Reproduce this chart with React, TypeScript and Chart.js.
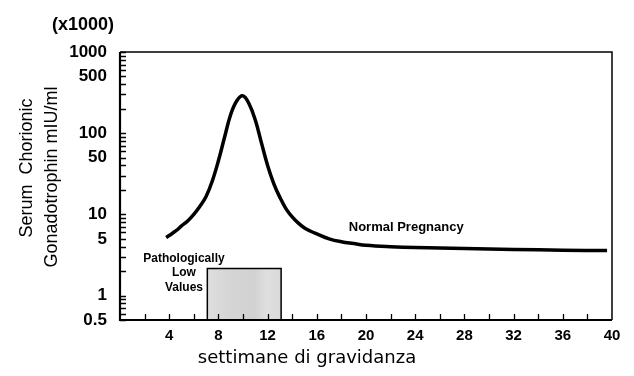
import React, { useEffect, useRef } from "react";
import { Chart, registerables } from "chart.js";

Chart.register(...registerables);

// ---- data ----
const curveWeeks = [3.75, 4, 4.5, 5, 5.5, 6, 6.5, 7, 7.5, 8, 8.5, 9, 9.5, 10, 10.5, 11, 11.5, 12, 12.5, 13, 13.5, 14, 14.5, 15, 15.5, 16, 17, 18, 19, 20, 22, 24, 28, 32, 36, 39.6];
const curveHcg = [5.2, 5.5, 6.2, 7.2, 8.3, 10, 12.6, 16.6, 25.7, 45.7, 89, 170, 251, 288, 229, 145, 76, 40, 24, 16.2, 11.7, 9.3, 7.8, 6.8, 6.2, 5.75, 5.0, 4.6, 4.37, 4.17, 4.0, 3.9, 3.8, 3.7, 3.62, 3.58];

const boxWeeks = [7.1, 7.1, 13.1, 13.1];
const boxHcg = [0.5, 2.15, 2.15, 0.5];

const yTickValues = [0.5, 0.6, 0.7, 0.8, 0.9, 1, 2, 3, 4, 5, 6, 7, 8, 9, 10, 20, 30, 40, 50, 60, 70, 80, 90, 100, 200, 300, 400, 500, 600, 700, 800, 900, 1000];
const yLabelValues = [0.5, 1, 5, 10, 50, 100, 500, 1000];
const xLabelValues = [4, 8, 12, 16, 20, 24, 28, 32, 36, 40];

const unitText = "(x1000)";
const yTitleLines = ["Serum  Chorionic", "Gonadotrophin mIU/ml"];
const xTitle = "settimane di gravidanza";
const lowLabel = ["Pathologically", "Low", "Values"];
const normalLabel = "Normal Pregnancy";

const SANS = "'Liberation Sans', Arial, Helvetica, sans-serif";

const overlay = {
  id: "overlay",
  afterDraw(chart: any) {
    const { ctx, chartArea: a, scales } = chart;
    const x = scales.x;
    const y = scales.y;
    ctx.save();
    ctx.strokeStyle = "#000";
    // frame top/right
    ctx.lineWidth = 1.5;
    ctx.beginPath();
    ctx.moveTo(a.left, a.top);
    ctx.lineTo(a.right, a.top);
    ctx.lineTo(a.right, a.bottom);
    ctx.stroke();
    // axes
    ctx.lineWidth = 2.2;
    ctx.beginPath();
    ctx.moveTo(a.left, a.top);
    ctx.lineTo(a.left, a.bottom);
    ctx.lineTo(a.right, a.bottom);
    ctx.stroke();
    // y ticks inward
    ctx.lineWidth = 1.3;
    ctx.beginPath();
    for (const t of y.ticks) {
      const py = Math.round(y.getPixelForValue(t.value)) + 0.5;
      ctx.moveTo(a.left, py);
      ctx.lineTo(a.left + 6, py);
    }
    // x ticks inward
    for (const t of x.ticks) {
      if (t.value <= x.min || t.value >= x.max) continue;
      const px = Math.round(x.getPixelForValue(t.value)) + 0.5;
      ctx.moveTo(px, a.bottom);
      ctx.lineTo(px, a.bottom - 6);
    }
    ctx.stroke();

    ctx.fillStyle = "#000";
    // unit
    ctx.font = `bold 18px ${SANS}`;
    ctx.textAlign = "left";
    ctx.textBaseline = "middle";
    ctx.fillText(unitText, 52, 25);

    // y title
    ctx.font = `18px ${SANS}`;
    ctx.textAlign = "center";
    ctx.save();
    ctx.translate(27, 168);
    ctx.rotate(-Math.PI / 2);
    ctx.fillText(yTitleLines[0], 0, 0);
    ctx.restore();
    ctx.save();
    ctx.translate(52, 177);
    ctx.rotate(-Math.PI / 2);
    ctx.fillText(yTitleLines[1], 0, 0);
    ctx.restore();

    // x title
    ctx.font = `18px 'DejaVu Sans', Verdana, sans-serif`;
    ctx.textAlign = "center";
    ctx.textBaseline = "alphabetic";
    ctx.fillText(xTitle, 307, 363);

    // annotations
    ctx.font = `bold 12px ${SANS}`;
    ctx.textBaseline = "middle";
    ctx.textAlign = "center";
    const lx = x.getPixelForValue(5.2);
    const ly = y.getPixelForValue(2.86);
    lowLabel.forEach((s, i) => ctx.fillText(s, lx, ly + i * 14.5));
    ctx.font = `bold 13px ${SANS}`;
    ctx.textAlign = "left";
    ctx.fillText(normalLabel, x.getPixelForValue(18.6), y.getPixelForValue(6.9));
    ctx.restore();
  },
};

export default function App() {
  const ref = useRef<HTMLCanvasElement | null>(null);
  useEffect(() => {
    if (!ref.current) return;
    const chart = new Chart(ref.current, {
      type: "line",
      data: {
        datasets: [
          {
            data: boxWeeks.map((w, i) => ({ x: w, y: boxHcg[i] })),
            borderColor: "#000",
            borderWidth: 1.5,
            pointRadius: 0,
            tension: 0,
            fill: "start",
            backgroundColor: (c: any) => {
              const ch = c.chart;
              const xs = ch.scales.x;
              if (!ch.chartArea || !xs) return "#dcdcdc";
              const g = ch.ctx.createLinearGradient(xs.getPixelForValue(boxWeeks[0]), 0, xs.getPixelForValue(boxWeeks[2]), 0);
              g.addColorStop(0, "#dedede");
              g.addColorStop(0.3, "#d5d5d5");
              g.addColorStop(0.65, "#d2d2d2");
              g.addColorStop(0.8, "#dfdfdf");
              g.addColorStop(1, "#d9d9d9");
              return g;
            },
          },
          {
            data: curveWeeks.map((w, i) => ({ x: w, y: curveHcg[i] })),
            borderColor: "#000",
            borderWidth: 3.5,
            pointRadius: 0,
            tension: 0.4,
            fill: false,
          },
        ],
      },
      options: {
        responsive: false,
        devicePixelRatio: 1,
        animation: false,
        layout: { padding: { top: 52, right: 22, left: 0, bottom: 0 } },
        plugins: { legend: { display: false }, tooltip: { enabled: false } },
        scales: {
          x: {
            type: "linear",
            min: 0,
            max: 40,
            ticks: {
              stepSize: 2,
              autoSkip: false,
              maxRotation: 0,
              padding: 7,
              color: "#000",
              font: { family: SANS, size: 15, weight: "bold" },
              callback: (v: any) => (xLabelValues.includes(Number(v)) ? String(v) : ""),
            },
            grid: { display: false, drawTicks: false },
            border: { display: false },
            afterFit: (s: any) => {
              s.height = 56;
            },
          },
          y: {
            type: "logarithmic",
            min: 0.5,
            max: 1000,
            afterBuildTicks: (s: any) => {
              s.ticks = yTickValues.map((v) => ({ value: v }));
            },
            ticks: {
              autoSkip: false,
              padding: 13,
              color: "#000",
              font: { family: SANS, size: 17, weight: "bold" },
              callback: (v: any) => (yLabelValues.includes(Number(v)) ? String(v) : ""),
            },
            grid: { display: false, drawTicks: false },
            border: { display: false },
            afterFit: (s: any) => {
              s.width = 120;
            },
          },
        },
      },
      plugins: [overlay],
    } as any);
    return () => chart.destroy();
  }, []);
  return (
    <div style={{ position: "fixed", left: 0, top: 0, width: 634, height: 376, background: "#fff" }}>
      <canvas ref={ref} width={634} height={376} style={{ display: "block" }} />
    </div>
  );
}
